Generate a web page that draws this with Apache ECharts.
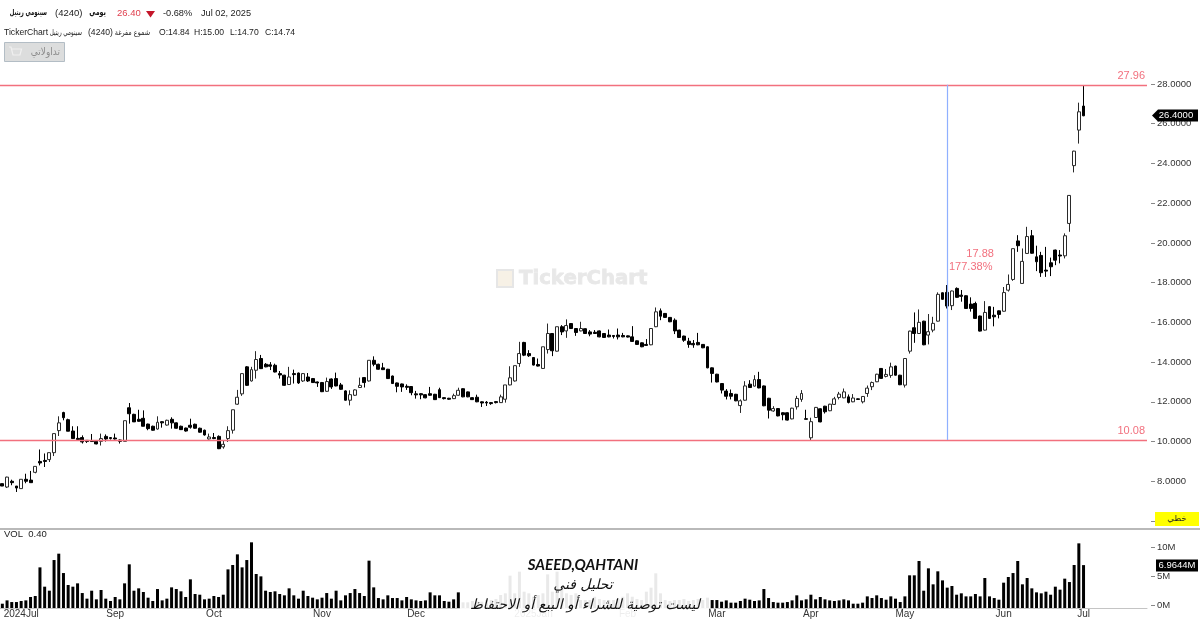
<!DOCTYPE html>
<html><head><meta charset="utf-8">
<style>html,body{margin:0;padding:0;background:#fff}#c{width:1200px;height:619px}</style>
<script src="https://cdn.jsdelivr.net/npm/echarts@6/dist/echarts.min.js"></script>
</head><body><div id="c"></div>
<script>
const slotCount = 244;
const monthTicks = {4:'2024Jul',24:'Sep',45:'Oct',68:'Nov',88:'Dec',113:'2025Jan',133:'Feb',152:'Mar',172:'Apr',192:'May',213:'Jun',230:'Jul'};
// [open, close, low, high]
const candles = [
[7.88,7.76,7.76,7.88],[7.71,8.21,7.66,8.23],[8.0,7.93,7.8,8.08],[7.76,7.66,7.46,7.76],[7.63,8.1,7.63,8.1],
[8.1,8.0,7.9,8.38],[8.06,7.93,7.93,8.52],[8.45,8.75,8.4,8.75],[9.0,8.92,8.8,9.6],[9.05,9.0,8.72,9.4],
[9.09,9.44,8.97,9.44],[9.44,10.4,9.27,10.4],[10.55,10.94,10.28,11.27],[11.46,11.2,11.07,11.5],[11.1,10.52,10.52,11.15],
[10.53,10.15,10.15,10.77],[10.16,10.1,10.1,10.77],[10.2,9.98,9.9,10.31],[10.06,10.0,9.93,10.06],[10.03,10.0,10.0,10.38],
[10.01,9.88,9.86,10.03],[10.01,10.15,9.8,10.4],[10.26,10.13,10.0,10.36],[10.2,10.15,10.1,10.22],[10.18,10.13,10.1,10.4],
[10.08,10.01,9.9,10.1],[10.01,11.05,10.01,11.05],[11.7,11.4,10.9,11.94],[11.37,10.99,10.99,11.4],[11.12,11.02,11.0,11.6],
[11.17,10.77,10.77,11.57],[10.88,10.65,10.57,10.9],[10.77,10.57,10.55,10.8],[10.63,10.97,10.6,11.27],[11.0,10.94,10.7,11.02],
[10.83,11.07,10.8,11.1],[11.12,10.94,10.65,11.22],[10.94,10.67,10.65,10.96],[10.77,10.6,10.58,10.8],[10.68,10.53,10.5,10.7],
[10.82,10.72,10.65,11.15],[10.87,10.67,10.65,10.9],[10.67,10.47,10.45,10.7],[10.57,10.33,10.3,10.6],[10.13,10.23,10.1,10.4],
[10.2,10.15,10.12,10.43],[10.26,9.64,9.62,10.31],[9.73,9.86,9.64,10.06],[10.15,10.55,9.98,10.77],[10.57,11.6,10.4,11.6],
[11.88,12.23,11.85,12.6],[12.4,13.42,12.3,13.42],[13.76,12.83,12.8,13.8],[13.05,13.62,13.02,13.76],[13.59,14.13,13.17,14.55],
[14.18,13.67,13.65,14.36],[13.89,13.76,13.74,13.95],[13.86,13.79,13.6,14.0],[13.84,13.5,13.48,13.92],[13.42,13.35,13.17,13.55],
[13.34,12.83,12.81,13.36],[12.87,13.25,12.85,13.76],[13.42,13.37,12.92,13.62],[13.45,12.95,12.9,13.47],[13.05,13.42,13.0,13.45],
[13.25,13.05,13.0,13.45],[13.17,12.97,12.95,13.2],[13.0,12.95,12.75,13.02],[12.97,12.51,12.49,13.0],[12.53,13.02,12.5,13.22],
[13.15,12.75,12.65,13.18],[13.17,12.8,12.78,13.47],[12.85,12.63,12.6,12.95],[12.55,12.08,12.06,12.58],[12.08,12.36,11.82,12.58],
[12.33,12.6,12.3,12.63],[12.72,12.83,12.7,13.22],[13.22,12.97,12.72,13.25],[13.05,14.09,13.02,14.09],[14.09,13.89,13.79,14.29],
[13.89,13.64,13.62,13.92],[13.71,13.62,13.6,13.96],[13.64,13.17,13.15,13.66],[13.3,12.92,12.9,13.32],[12.95,12.78,12.48,12.97],
[12.9,12.75,12.5,12.92],[12.78,12.73,12.6,12.88],[12.77,12.46,12.33,12.79],[12.4,12.35,12.16,12.55],[12.41,12.35,12.13,12.43],
[12.36,12.2,12.18,12.38],[12.41,12.33,12.31,12.75],[12.38,12.11,12.09,12.4],[12.61,12.21,12.19,12.71],[12.21,12.16,12.12,12.23],
[12.18,12.13,12.1,12.2],[12.16,12.31,12.14,12.41],[12.33,12.58,12.31,12.71],[12.66,12.25,12.23,12.68],[12.5,12.25,12.23,12.52],
[12.21,12.11,12.09,12.23],[12.23,12.0,11.98,12.36],[12.0,11.94,11.74,12.02],[11.98,11.94,11.79,12.04],[11.96,11.91,11.85,11.98],
[12.01,11.96,11.92,12.03],[11.96,12.25,11.94,12.36],[12.13,12.85,11.96,12.85],[12.85,13.21,12.83,13.79],[13.05,13.82,13.02,13.82],
[13.93,14.43,13.76,15.02],[14.99,14.35,14.3,15.02],[14.43,14.32,14.26,14.6],[14.23,13.85,13.83,14.25],[13.88,13.8,13.78,14.18],
[13.68,14.77,13.66,14.77],[14.63,15.44,14.43,15.94],[15.44,14.57,14.3,15.46],[14.55,15.78,14.53,15.78],[15.78,15.52,15.36,15.86],
[15.57,15.84,15.22,16.15],[15.94,15.69,15.67,15.96],[15.69,15.49,15.32,15.71],[15.57,15.69,15.55,16.03],[15.68,15.44,15.42,15.7],
[15.52,15.41,15.3,15.61],[15.5,15.44,15.42,15.61],[15.57,15.27,15.25,15.59],[15.44,15.24,15.22,15.46],[15.36,15.27,15.25,15.64],
[15.34,15.29,15.19,15.36],[15.36,15.27,15.14,15.69],[15.34,15.27,15.25,15.47],[15.32,15.26,15.24,15.34],[15.27,15.04,15.02,15.81],
[15.07,14.89,14.87,15.09],[14.97,14.77,14.75,14.99],[14.89,14.84,14.82,15.16],[14.87,15.69,14.85,15.69],[15.78,16.53,15.76,16.75],
[16.58,16.31,16.11,16.7],[16.45,16.25,16.23,16.47],[16.25,16.03,16.01,16.27],[16.11,15.57,15.41,16.2],[15.61,15.24,15.22,15.63],
[15.31,15.1,15.02,15.33],[15.05,14.89,14.72,15.22],[14.94,14.87,14.72,15.11],[14.99,14.87,14.85,15.47],[14.89,14.72,14.7,14.91],
[14.77,13.71,13.69,14.79],[13.71,13.43,12.97,13.73],[13.39,13.0,12.98,13.41],[12.92,12.59,12.42,12.94],[12.54,12.28,12.12,12.64],
[12.42,12.28,12.12,12.62],[12.38,12.05,12.03,12.4],[11.81,12.05,11.44,12.12],[12.08,12.8,12.06,13.04],[12.89,12.72,12.7,13.09],
[12.79,13.12,12.77,13.34],[13.12,12.7,12.68,13.51],[12.8,11.8,11.78,12.82],[12.18,11.58,11.16,12.2],[11.54,11.66,11.5,11.78],
[11.66,11.29,11.27,11.68],[11.45,11.35,11.07,11.47],[11.45,11.08,11.06,11.47],[11.14,11.68,11.12,11.7],[11.75,12.17,11.61,12.3],
[12.12,12.42,12.0,12.59],[11.15,11.12,11.12,11.6],[10.19,11.0,10.07,11.2],[11.21,11.72,11.19,11.74],[11.65,10.99,10.97,11.67],
[11.78,11.5,11.41,11.8],[11.55,11.88,11.53,11.9],[11.87,12.15,11.85,12.25],[12.22,12.39,12.12,12.5],[12.2,12.5,12.18,12.67],
[12.25,11.97,11.92,12.37],[12.0,12.19,11.98,12.39],[12.15,12.12,12.1,12.17],[12.0,12.27,11.92,12.29],[12.42,12.69,12.25,12.82],
[12.76,12.97,12.59,13.02],[13.01,13.39,12.99,13.41],[13.68,13.18,13.16,13.7],[13.28,13.38,13.23,13.65],[13.33,13.76,13.21,13.97],
[13.8,13.34,13.32,13.82],[13.34,12.86,12.84,13.36],[12.84,14.18,12.72,14.18],[14.55,15.56,14.43,15.58],[15.73,15.44,14.97,16.5],
[15.44,16.0,15.42,16.65],[16.06,14.87,14.85,16.08],[15.36,15.53,14.89,16.42],[15.61,15.95,15.5,16.28],[16.06,17.41,16.04,17.51],
[17.49,17.16,17.14,17.51],[17.51,16.82,16.7,17.88],[16.84,17.58,16.62,17.6],[17.71,17.26,17.24,17.76],[17.37,17.31,17.04,17.63],
[17.34,16.7,16.68,17.36],[16.92,16.7,16.54,17.26],[16.95,16.2,16.18,17.04],[16.32,15.56,15.54,16.34],[15.61,16.5,15.59,17.07],
[16.79,16.2,16.18,16.81],[16.36,16.28,15.8,16.78],[16.58,16.4,16.2,16.6],[16.56,17.5,16.54,17.78],[17.62,17.91,17.55,18.41],
[18.16,19.71,18.09,19.71],[20.1,19.86,19.55,20.39],[17.96,19.07,17.94,19.72],[19.47,20.32,19.45,20.81],[20.36,19.48,19.46,20.65],
[19.3,19.05,18.58,19.86],[19.37,18.5,18.29,19.55],[18.63,18.58,18.29,19.8],[19.0,18.8,18.33,19.26],[19.64,19.13,18.88,19.66],
[19.39,19.34,18.97,19.64],[19.35,20.36,19.22,20.48],[20.98,22.39,20.56,22.41],[23.89,24.62,23.55,24.64],[25.68,26.6,25.0,27.06],
[26.89,26.4,26.38,27.95]];
const volumes = [
0.23,0.81,0.52,0.52,0.70,0.81,1.40,1.57,6.57,3.20,2.50,7.85,8.96,5.58,3.49,3.20,3.78,2.09,1.11,2.50,0.99,2.62,1.11,0.70,1.40,0.99,3.78,7.10,2.50,2.91,2.27,1.28,0.70,2.79,0.81,1.11,3.08,2.79,2.39,1.40,4.48,1.92,1.80,0.99,1.11,1.57,1.40,1.80,6.22,6.98,8.84,6.57,7.85,10.94,5.41,5.0,2.5,2.27,2.39,1.92,1.69,2.91,1.69,1.11,
2.5,1.57,1.28,0.99,1.28,2.09,1.11,2.5,0.81,1.69,2.09,2.79,2.09,1.57,7.74,3.08,1.22,0.99,1.69,1.22,1.22,0.81,1.4,0.99,0.81,0.7,0.81,2.21,1.69,1.69,0.7,0.58,0.99,2.21,
0.47,0.47,0.7,0.58,0.58,0.87,0.87,1.05,1.75,2.04,5.12,2.04,5.82,2.33,2.04,1.45,1.75,2.04,5.35,2.33,5.82,2.91,2.04,1.75,2.04,0.87,0.87,0.87,1.45,1.05,0.87,0.87,0.87,1.05,1.45,2.04,1.45,1.05,0.87,2.33,3.03,5.53,2.04,0.87,0.7,0.87,0.87,1.05,0.7,0.87,1.05,0.87,1.28,0.87,0.87,
0.58,0.81,0.41,0.41,0.7,1.11,0.93,0.7,0.81,2.79,1.22,0.52,0.41,0.41,0.52,0.81,1.69,0.81,0.99,1.8,0.99,1.4,0.99,0.81,0.7,0.81,0.99,0.81,0.23,0.23,0.41,1.51,1.22,1.69,1.22,0.93,1.51,1.11,0.52,1.51,5.18,5.18,7.68,2.5,6.4,3.61,5.88,4.3,3.03,3.32,1.8,2.04,1.51,1.51,1.92,1.51,4.71,1.51,1.22,0.93,3.9,4.89,5.58,7.68,3.61,4.71,2.91,2.21,2.04,2.33,1.8,3.2,2.68,4.6,4.01,6.98,10.76,6.9644];
const highLevel = 27.96, lowLevel = 10.08;
const volTicks = [0,5,10];
const lastVol = '6.9644M';

const categories = Array.from({length: slotCount}, (_, i) => String(i));
const LAT = '"Liberation Sans", Arial, sans-serif';
const AR = '"DejaVu Sans", "Liberation Sans", sans-serif';
const RED = '#f2707e';
const BLUE = '#8fb0ff';

function t(text, x, y, o = {}) {
  return {type:'text', silent:true, z:o.z ?? 50, x, y, scaleX:o.sx ?? 1,
    style:{text, x:0, y:0, fill:o.fill||'#222', stroke:o.stroke, lineWidth:o.lw,
    font:o.font||('9.5px '+LAT), textAlign:o.align||'left', textVerticalAlign:'middle'}};
}
const graphics = [
  {type:'rect', z:-1, silent:true, shape:{x:497,y:270,width:16,height:17}, style:{fill:'#f7f1e6',stroke:'#e6e6e6',lineWidth:2}},
  t('TickerChart',519,279,{z:-1,fill:'#e8e8e8',stroke:'#e8e8e8',lw:0.8,font:'bold 19.7px "DejaVu Sans"'}),
  t('سينومي ريتيل',47,13,{align:'right',font:'bold 8.5px '+AR,fill:'#111',sx:0.62}),
  t('(4240)',55,13),
  t('يومي',106,13,{align:'right',font:'bold 8.5px '+AR,fill:'#111',sx:0.75}),
  t('26.40',117,13,{fill:'#e0404f'}),
  {type:'polygon', silent:true, z:50, shape:{points:[[146,11],[155,11],[150.5,17.5]]}, style:{fill:'#c4162a'}},
  t('-0.68%',163,13,{font:'9.2px '+LAT}),
  t('Jul 02, 2025',201,13,{font:'9.2px '+LAT}),
  t('TickerChart',4,33,{font:'8.6px '+LAT}),
  t('سينومي ريتيل',82,33,{align:'right',font:'8px '+AR,sx:0.7}),
  t('(4240)',88,33,{font:'8.6px '+LAT}),
  t('شموع مفرغة',150,33,{align:'right',font:'8px '+AR,sx:0.8}),
  t('O:14.84',159,33,{font:'8.6px '+LAT}),
  t('H:15.00',194,33,{font:'8.6px '+LAT}),
  t('L:14.70',230,33,{font:'8.6px '+LAT}),
  t('C:14.74',265,33,{font:'8.6px '+LAT}),
  {type:'rect', silent:true, z:50, shape:{x:4.5,y:42.5,width:60,height:19}, style:{fill:'#dcdddd',stroke:'#b3bdc5',lineWidth:1}},
  {type:'polyline', silent:true, z:51, shape:{points:[[9,47],[11,47],[13,55],[20,55],[21.5,49],[12,49]]}, style:{fill:'none',stroke:'#f0f0f0',lineWidth:1.2}},
  t('تداولاتي',60,52,{z:51,align:'right',font:'10px '+AR,fill:'#8c8c8c',sx:0.9}),
  {type:'line', silent:true, z:50, shape:{x1:0,y1:529,x2:1200,y2:529}, style:{stroke:'#b9b9b9',lineWidth:2}},
  t('VOL  0.40',4,534.5,{font:'9.5px '+LAT}),
  {type:'rect', silent:true, z:50, shape:{x:1155,y:512,width:44,height:14}, style:{fill:'#ffff00'}},
  t('خطي',1177,519,{z:51,align:'center',font:'8.5px '+AR,fill:'#222'}),
  {type:'polygon', silent:true, z:50, shape:{points:[[1152,115.5],[1158,109.5],[1198,109.5],[1198,121.5],[1158,121.5]]}, style:{fill:'#000'}},
  t('26.4000',1176,115.7,{z:51,align:'center',fill:'#fff'}),
  {type:'rect', silent:true, z:50, shape:{x:1156,y:559.5,width:42,height:12}, style:{fill:'#000'}},
  t(lastVol,1177,565.7,{z:51,align:'center',fill:'#fff'}),
  {type:'rect', silent:true, z:90, shape:{x:460,y:531,width:249,height:88}, style:{fill:'rgba(255,255,255,0.915)'}},
  t('SAEED,QAHTANI',583,565,{z:95,align:'center',fill:'#111',font:'italic bold 15px Lato, "Open Sans", sans-serif'}),
  t('تحليل فني',583,585,{z:95,align:'center',fill:'#111',font:'italic 14px '+AR}),
  t('ليست توصية للشراء أو البيع أو الاحتفاظ',585,605,{z:95,align:'center',fill:'#111',font:'italic 14px '+AR})
];

const chart = echarts.init(document.getElementById('c'), null, {renderer:'canvas'});
chart.setOption({
  animation:false,
  backgroundColor:'#fff',
  graphic:graphics,
  grid:[
    {left:0, width:1147, top:84, height:437},
    {left:0, width:1147, top:530, height:78}
  ],
  xAxis:[
    {type:'category', gridIndex:0, data:categories, boundaryGap:true, axisLine:{show:false}, axisTick:{show:false}, axisLabel:{show:false}, splitLine:{show:false}},
    {type:'category', gridIndex:1, data:categories, boundaryGap:true, splitLine:{show:false},
     axisLine:{show:true, onZero:false, lineStyle:{color:'#c4c4c4',width:1}}, axisTick:{show:false},
     axisLabel:{interval:(i)=>monthTicks[i]!==undefined, formatter:(v,i)=>monthTicks[i]||'', margin:1, fontSize:10, color:'#333', fontFamily:LAT, hideOverlap:false}}
  ],
  yAxis:[
    {type:'value', gridIndex:0, position:'right', offset:4, min:6, max:28, interval:2, scale:true, splitLine:{show:false},
     axisLine:{show:false}, axisTick:{show:true, length:4, lineStyle:{color:'#888'}},
     axisLabel:{margin:6, fontSize:9.5, color:'#333', fontFamily:LAT,
       formatter:(v)=> (v<=6 ? '' : v.toFixed(4))}},
    {type:'value', gridIndex:1, position:'right', offset:4, min:-0.52, max:13.09, splitLine:{show:false},
     axisLine:{show:false}, axisTick:{show:true, length:4, customValues:volTicks, lineStyle:{color:'#888'}},
     axisLabel:{margin:6, fontSize:9.5, color:'#333', fontFamily:LAT, customValues:volTicks, formatter:(v)=>v+'M'}}
  ],
  series:[
    {type:'candlestick', name:'4240', xAxisIndex:0, yAxisIndex:0, data:candles, barWidth:3.4, z:3,
     itemStyle:{color:'#ffffff', color0:'#000000', borderColor:'#2a2a2a', borderColor0:'#000000', borderWidth:1},
     markLine:{silent:true, symbol:'none', animation:false, z:5, lineStyle:{color:RED,width:1.4,type:'solid',opacity:1},
       data:[
         {yAxis:highLevel,
          label:{show:true, position:'insideEndTop', formatter:String(highLevel), color:RED, fontSize:11, fontFamily:LAT, distance:[2,3]}},
         {yAxis:lowLevel,
          label:{show:true, position:'insideEndTop', formatter:String(lowLevel), color:RED, fontSize:11, fontFamily:LAT, distance:[2,3]}},
         [{coord:['201',highLevel], lineStyle:{color:BLUE,width:1.2,type:'solid'}, label:{show:false}},
          {coord:['201',lowLevel], lineStyle:{color:BLUE,width:1.2,type:'solid'}}]
       ]},
     markPoint:{silent:true, symbol:'circle', symbolSize:0, animation:false,
       data:[
         {coord:['208',19.44], label:{show:true, position:'inside', formatter:'17.88', color:RED, fontSize:11, fontFamily:LAT}},
         {coord:['206',18.79], label:{show:true, position:'inside', formatter:'177.38%', color:RED, fontSize:11, fontFamily:LAT}}
       ]}},
    {type:'bar', name:'VOL', xAxisIndex:1, yAxisIndex:1, data:volumes, barWidth:3, stack:'vol', itemStyle:{color:'#000'}},
    {type:'bar', name:'VOLfloor', xAxisIndex:1, yAxisIndex:1, data:volumes.map(()=>-0.52), barWidth:3, stack:'vol', itemStyle:{color:'#000'}, silent:true}
  ]
});
</script></body></html>
